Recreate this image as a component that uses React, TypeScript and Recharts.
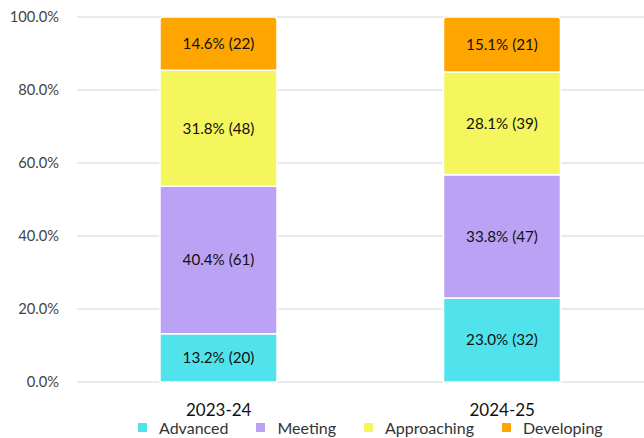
import React from "react";
import { BarChart, Bar, XAxis, YAxis, CartesianGrid, Legend, LabelList } from "recharts";

const categories = ["2023-24", "2024-25"];
const seriesNames = ["Advanced", "Meeting", "Approaching", "Developing"];
const seriesKeys = ["advanced", "meeting", "approaching", "developing"];
const colors = ["#50E3EB", "#BBA2F5", "#F5F55E", "#FFA500"];
const advancedPct = [13.2, 23.0];
const meetingPct = [40.4, 33.8];
const approachingPct = [31.8, 28.1];
const developingPct = [14.6, 15.1];
const advancedN = [20, 32];
const meetingN = [61, 47];
const approachingN = [48, 39];
const developingN = [22, 21];
const yTicks = [0, 20, 40, 60, 80, 100];

const pcts = [advancedPct, meetingPct, approachingPct, developingPct];
const counts = [advancedN, meetingN, approachingN, developingN];

const data = categories.map((c, i) => {
  const row: Record<string, any> = { name: c };
  seriesKeys.forEach((k, s) => {
    row[k] = pcts[s][i];
    row[k + "Label"] = `${pcts[s][i].toFixed(1)}% (${counts[s][i]})`;
  });
  return row;
});

const renderLegend = () => (
  <div
    style={{
      display: "flex",
      justifyContent: "flex-start",
      paddingLeft: 138,
      alignItems: "center",
      height: 22,
      fontFamily: "Lato",
      fontSize: 16,
      color: "#333",
    }}
  >
    {seriesNames.map((n, i) => (
      <div key={n} style={{ display: "flex", alignItems: "center", marginRight: 28 }}>
        <span style={{ width: 9, height: 9, background: colors[i], display: "inline-block", marginRight: 12 }} />
        <span>{n}</span>
      </div>
    ))}
  </div>
);

export default function App() {
  return (
    <div style={{ position: "absolute", left: 0, top: 0 }}>
      <BarChart
        width={644}
        height={438}
        data={data}
        margin={{ top: 17, right: 0, bottom: 0, left: 0 }}
        barSize={117}
        style={{ fontFamily: "Lato" }}
      >
        <CartesianGrid vertical={false} stroke="#e3e3e3" strokeWidth={1.5} />
        <XAxis
          dataKey="name"
          axisLine={false}
          tickLine={false}
          tickSize={0}
          tickMargin={22}
          height={34}
          tick={{ fill: "#111", fontSize: 17 }}
        />
        <YAxis
          domain={[0, 100]}
          ticks={yTicks}
          width={77}
          axisLine={false}
          tickLine={false}
          tickSize={0}
          tickMargin={18}
          tickFormatter={(v: number) => `${v.toFixed(1)}%`}
          tick={{ fill: "#444", fontSize: 14.7 }}
        />
        <Legend verticalAlign="bottom" height={22} content={renderLegend} />
        {seriesKeys.map((k, s) => (
          <Bar
            key={k}
            dataKey={k}
            name={seriesNames[s]}
            stackId="a"
            fill={colors[s]}
            stroke="#fff"
            strokeWidth={1.5}
            radius={s === 3 ? [3, 3, 0, 0] : 0}
            isAnimationActive={false}
          >
            <LabelList dataKey={k + "Label"} position="center" fill="#111" fontSize={15.2} />
          </Bar>
        ))}
      </BarChart>
    </div>
  );
}
